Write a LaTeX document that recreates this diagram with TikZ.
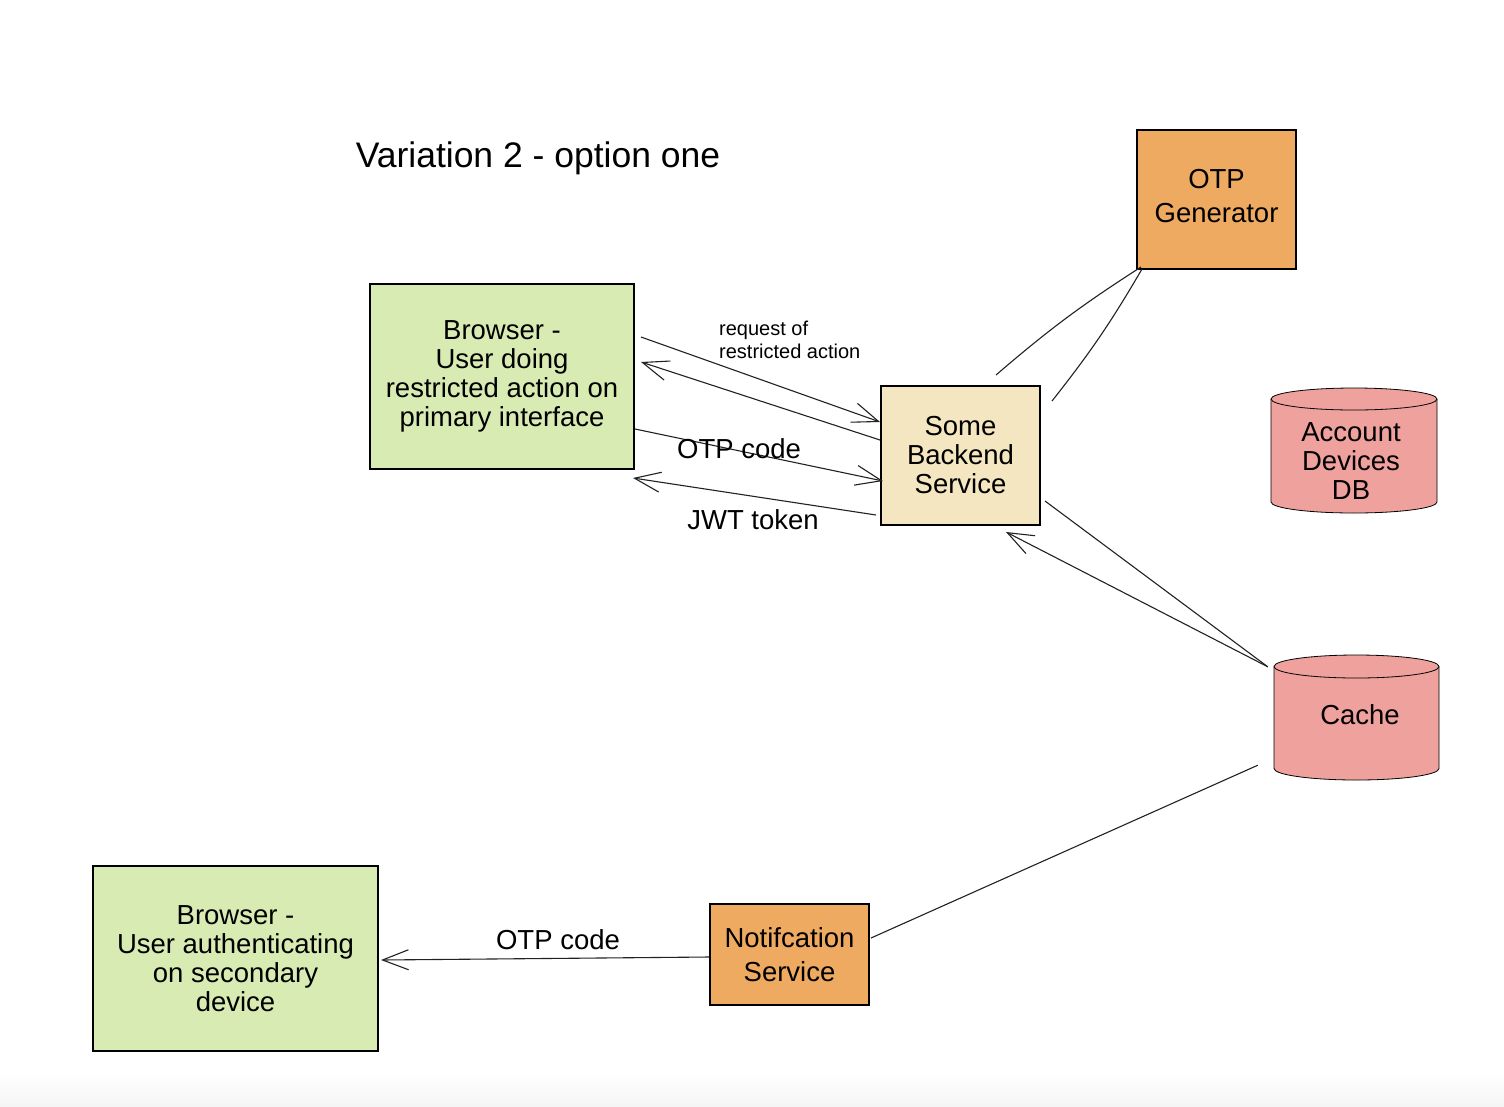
\documentclass[tikz,border=0pt]{standalone}
\usepackage{fontspec}
\setmainfont{Liberation Sans}
\usetikzlibrary{arrows.meta,calc}
\definecolor{boxgreen}{HTML}{D8EBB3}
\definecolor{boxcream}{HTML}{F3E6C1}
\definecolor{boxorange}{HTML}{EEAA61}
\definecolor{dbred}{HTML}{EEA19D}
\definecolor{linegray}{HTML}{222222}
\begin{document}
\begin{tikzpicture}[x=1pt,y=-1pt,
  box/.style={draw=black, line width=2pt, align=center, inner sep=0pt,
    font=\fontsize{27.5}{29}\selectfont},
  wbox/.style={box, font=\fontsize{27.5}{34}\selectfont},
  dbnode/.style={inner sep=0pt, align=center, font=\fontsize{27.5}{29}\selectfont},
  dbshape/.style={fill=dbred, draw=black, line width=0.8pt},
  conn/.style={draw=linegray, line width=1.1pt},
  arr/.style={conn, -{Straight Barb[length=26pt,width=20pt,line width=1.1pt]}},
  lbl/.style={font=\fontsize{27.5}{29}\selectfont, inner sep=0pt},
  smalllbl/.style={font=\fontsize{20}{23}\selectfont, inner sep=0pt, align=left},
]
\useasboundingbox (0,0) rectangle (1504,1106);
\fill[white] (0,0) rectangle (1504,1106);
\shade[top color=white, bottom color=black!4] (0,1072) rectangle (1504,1106);

% title
\node[font=\fontsize{35.5}{40}\selectfont, inner sep=0pt] (title) at (538,158) {Variation 2 - option one};

% boxes
\node[box, fill=boxgreen, minimum width=264pt, minimum height=185pt] (b1) at (502,376.5)
  {Browser -\\User doing\\restricted action on\\primary interface};
\node[box, fill=boxcream, minimum width=159pt, minimum height=139pt] (be) at (960.5,455.5)
  {Some\\Backend\\Service};
\node[wbox, fill=boxorange, minimum width=159pt, minimum height=139pt, text depth=8pt] (otp) at (1216.5,199.5)
  {OTP\\Generator};
\node[wbox, fill=boxorange, minimum width=159pt, minimum height=101pt] (ns) at (789.5,954.5)
  {Notifcation\\Service};
\node[box, fill=boxgreen, minimum width=285pt, minimum height=185pt] (b2) at (235.5,958.5)
  {Browser -\\User authenticating\\on secondary\\device};

% cylinders
\path[dbshape] (1271,399) -- (1271,502)
  arc[start angle=180, end angle=360, x radius=83pt, y radius=11pt]
  -- (1437,399)
  arc[start angle=0, end angle=180, x radius=83pt, y radius=11pt] -- cycle;
\draw[line width=0.8pt] (1271,399) arc[start angle=180, end angle=360, x radius=83pt, y radius=11pt];
\node[dbnode, minimum width=166pt, minimum height=125pt] (db) at (1354,450.5) {};
\node[dbnode] (dbtext) at (1351,461) {Account\\Devices\\DB};

\path[dbshape] (1274,666.5) -- (1274,768.5)
  arc[start angle=180, end angle=360, x radius=82.5pt, y radius=11.5pt]
  -- (1439,666.5)
  arc[start angle=0, end angle=180, x radius=82.5pt, y radius=11.5pt] -- cycle;
\draw[line width=0.8pt] (1274,666.5) arc[start angle=180, end angle=360, x radius=82.5pt, y radius=11.5pt];
\node[dbnode, minimum width=165pt, minimum height=125pt] (cache) at (1356.5,717.5) {};
\node[dbnode] (cachetext) at (1360,715) {Cache};

% connectors between browser and backend
\draw[arr] ([xshift=6pt,yshift=-54pt]b1.north east) -- ([yshift=-37pt]be.north west);
\draw[arr] ([yshift=-55pt]be.north west) -- ([xshift=6pt,yshift=-79pt]b1.north east);
\draw[arr] ([yshift=-146pt]b1.north east) -- ([xshift=3pt,yshift=-96pt]be.north west);
\draw[arr] ([xshift=-4pt,yshift=11pt]be.south west) -- ([xshift=-2pt,yshift=-8pt]b1.south east);

\node[smalllbl, anchor=north west] (req) at (719,321) {request of\\restricted action};
\node[lbl] (otplbl) at (739,449) {OTP code};
\node[lbl] (jwtlbl) at (753,520) {JWT token};

% backend <-> otp generator
\draw[conn] ([xshift=116pt,yshift=10pt]be.north west) to[bend left=4] ([xshift=5pt,yshift=3pt]otp.south west);
\draw[conn] ([xshift=11pt,yshift=-16pt]be.north east) to[bend right=4] ([xshift=6pt,yshift=1pt]otp.south west);

% backend <-> cache
\coordinate (cachetip) at ([xshift=-6pt,yshift=-12pt]cache.north west);
\draw[conn] ([xshift=4pt,yshift=25pt]be.south east) -- (cachetip);
\draw[arr] (cachetip) -- ([xshift=-35pt,yshift=-6pt]be.south east);

% cache -> notification
\draw[conn] ([xshift=-16pt,yshift=15pt]cache.south west) -- ([xshift=1pt,yshift=-35pt]ns.north east);

% notification -> secondary browser
\draw[arr] ([yshift=-2.5pt]ns.west) -- ([xshift=2pt,yshift=-1.5pt]b2.east);
\node[lbl] (otplbl2) at (558,940) {OTP code};
\end{tikzpicture}
\end{document}
